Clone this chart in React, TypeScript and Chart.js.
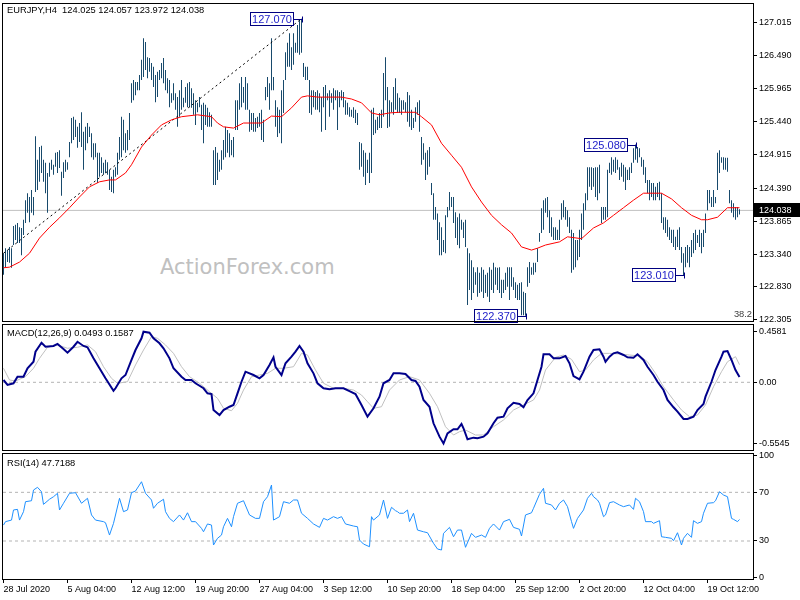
import React, { useEffect, useRef } from 'react';
import { Chart, registerables } from 'chart.js';

Chart.register(...registerables);

// ---------- DATA ----------
const symbolTitle = 'EURJPY,H4';
const lastBar = [124.025, 124.057, 123.972, 124.038]; // O H L C
const macdLabelVals = [0.0493, 0.1587];
const rsiLabelVal = 47.7188;
const fiboLabel = '38.2';
const watermark = 'ActionForex.com';

const barHigh = [
  123.36, 123.44, 123.41, 123.46, 123.44, 123.79, 123.81, 123.84, 123.77, 123.76,
  123.89, 124.20, 124.31, 124.25, 124.36, 124.25, 125.21, 124.84, 125.04, 125.06,
  124.84, 124.79, 124.63, 124.79, 124.84, 124.76, 124.95, 124.96, 124.99, 124.65,
  124.80, 124.84, 124.80, 125.12, 125.50, 125.52, 125.47, 125.36, 125.42, 125.59,
  125.28, 125.36, 125.42, 125.36, 125.26, 125.10, 125.10, 124.95, 124.95, 124.88,
  124.79, 124.84, 124.80, 124.68, 124.57, 124.68, 124.72, 124.95, 125.20, 125.52,
  125.47, 125.26, 125.31, 125.58, 126.05, 126.10, 126.07, 126.07, 126.18, 126.42,
  126.76, 126.70, 126.46, 126.45, 126.37, 126.31, 126.18, 126.23, 126.26, 126.37,
  126.45, 126.26, 126.13, 126.10, 125.89, 126.05, 125.89, 125.83, 125.94, 126.10,
  125.82, 125.99, 126.05, 126.07, 125.97, 125.89, 125.78, 125.74, 125.83, 125.71,
  125.74, 125.71, 125.66, 125.59, 125.55, 124.99, 125.04, 124.95, 124.84, 124.99,
  125.15, 125.36, 125.31, 125.26, 125.15, 125.20, 125.78, 125.78, 126.05, 126.15,
  125.99, 126.15, 126.05, 125.63, 125.58, 125.58, 125.50, 125.52, 125.58, 125.63,
  125.47, 125.99, 126.15, 126.05, 126.76, 126.15, 125.78, 125.67, 125.63, 125.94,
  126.10, 126.54, 126.69, 126.84, 126.62, 126.84, 126.69, 126.97, 127.05, 127.07,
  126.37, 126.31, 126.31, 126.10, 125.94, 125.94, 125.91, 125.94, 125.89, 125.83,
  125.99, 126.02, 125.89, 125.94, 125.89, 125.97, 125.94, 125.94, 125.91, 125.94,
  125.91, 125.78, 125.74, 125.67, 125.63, 125.67, 125.63, 125.58, 125.12, 125.10,
  124.99, 124.95, 124.84, 124.95, 125.63, 125.66, 125.47, 125.52, 125.58, 125.63,
  126.21, 126.46, 125.99, 125.78, 125.75, 125.99, 126.13, 125.89, 125.82, 125.78,
  125.78, 125.75, 125.91, 125.86, 125.63, 125.50, 125.67, 125.75, 125.78, 125.20,
  125.10, 124.95, 124.99, 125.04, 124.47, 124.31, 124.09, 123.99, 123.85, 123.77,
  123.57, 123.96, 124.09, 124.33, 124.25, 124.25, 124.01, 123.93, 123.99, 123.89,
  123.85, 123.89, 123.44, 123.36, 123.25, 123.14, 123.06, 123.14, 123.05, 123.14,
  123.10, 123.02, 123.05, 123.14, 123.10, 123.21, 123.14, 123.13, 123.14, 122.94,
  122.94, 123.05, 123.14, 123.14, 123.14, 122.98, 122.90, 122.86, 122.89, 122.90,
  122.75, 122.73, 123.14, 123.22, 123.14, 123.21, 123.21, 123.44, 123.68, 124.07,
  124.20, 124.23, 124.25, 124.04, 123.93, 123.77, 123.77, 123.73, 123.89, 124.15,
  124.20, 124.09, 124.04, 123.93, 123.73, 123.68, 123.57, 123.57, 123.73, 123.99,
  124.15, 124.31, 124.72, 124.72, 124.72, 124.71, 124.72, 124.72, 124.76, 124.09,
  124.09, 124.09, 124.68, 124.79, 124.88, 124.84, 124.88, 124.84, 124.72, 124.79,
  124.76, 124.72, 124.68, 124.72, 124.79, 125.02, 125.08, 125.04, 125.02, 124.88,
  124.84, 124.72, 124.52, 124.52, 124.47, 124.47, 124.41, 124.47, 124.49, 124.31,
  123.93, 123.93, 123.89, 123.77, 123.73, 123.73, 123.62, 123.73, 123.77, 123.46,
  123.36, 123.46, 123.49, 123.46, 123.57, 123.68, 123.73, 123.65, 123.73, 123.68,
  123.73, 123.99, 124.36, 124.36, 124.25, 124.36, 124.25, 124.95, 124.99, 124.88,
  124.88, 124.87, 124.87, 124.36, 124.20, 124.15, 124.09, 124.09, 124.057,
];

const barLow = [
  123.02, 123.14, 123.22, 123.21, 123.13, 123.49, 123.57, 123.52, 123.52, 123.33,
  123.65, 123.84, 124.00, 123.85, 124.00, 123.96, 124.33, 124.36, 124.49, 124.63,
  124.49, 124.31, 124.00, 124.57, 124.68, 124.60, 124.73, 124.63, 124.71, 124.27,
  124.55, 124.65, 124.68, 124.88, 125.10, 125.15, 125.20, 125.03, 125.12, 125.04,
  124.68, 124.99, 125.10, 125.20, 124.88, 124.84, 124.88, 124.47, 124.57, 124.63,
  124.60, 124.63, 124.60, 124.36, 124.33, 124.31, 124.57, 124.60, 124.84, 124.88,
  124.99, 124.95, 124.99, 125.15, 125.74, 125.78, 125.86, 125.94, 125.94, 126.10,
  126.15, 126.26, 126.13, 126.23, 126.10, 125.99, 125.75, 125.83, 126.10, 126.13,
  126.05, 125.94, 125.89, 125.67, 125.74, 125.78, 125.63, 125.36, 125.52, 125.63,
  125.67, 125.74, 125.67, 125.67, 125.66, 125.55, 125.39, 125.59, 125.67, 125.31,
  125.10, 125.39, 125.36, 125.36, 125.36, 124.44, 124.44, 124.52, 124.65, 124.68,
  124.84, 124.88, 124.95, 124.88, 124.91, 124.88, 125.31, 125.31, 125.63, 125.67,
  125.74, 125.63, 125.63, 125.28, 125.31, 125.28, 125.28, 125.34, 125.36, 125.15,
  125.12, 125.78, 125.83, 125.63, 125.94, 125.94, 125.36, 125.20, 125.26, 125.10,
  125.58, 126.10, 126.31, 126.31, 126.26, 126.34, 126.53, 126.53, 126.50, 126.53,
  126.15, 126.10, 126.10, 125.58, 125.55, 125.67, 125.63, 125.63, 125.59, 125.28,
  125.67, 125.31, 125.78, 125.52, 125.74, 125.63, 125.78, 125.31, 125.67, 125.78,
  125.67, 125.55, 125.55, 125.52, 125.52, 125.50, 125.42, 125.39, 124.68, 124.73,
  124.57, 124.44, 124.63, 124.47, 124.63, 125.23, 125.26, 125.31, 125.34, 125.34,
  125.52, 125.78, 125.34, 125.36, 125.59, 125.55, 125.63, 125.58, 125.58, 125.55,
  125.63, 125.59, 125.44, 125.36, 125.31, 125.34, 125.44, 125.55, 125.28, 124.76,
  124.84, 124.52, 124.60, 124.73, 124.28, 123.89, 123.89, 123.57, 123.33, 123.33,
  123.38, 123.36, 123.93, 124.04, 124.09, 123.84, 123.60, 123.49, 123.44, 123.73,
  123.60, 123.46, 122.54, 122.78, 122.62, 122.73, 122.86, 122.67, 122.73, 122.75,
  122.65, 122.73, 122.67, 122.59, 122.78, 122.73, 122.86, 122.78, 122.73, 122.65,
  122.73, 122.78, 122.83, 122.62, 122.83, 122.78, 122.65, 122.62, 122.62, 122.38,
  122.38, 122.37, 122.83, 122.89, 123.02, 123.02, 123.06, 123.22, 123.54, 123.68,
  123.73, 124.00, 123.93, 123.68, 123.62, 123.57, 123.57, 123.57, 123.57, 123.89,
  123.93, 123.89, 123.78, 123.68, 123.05, 123.10, 123.14, 123.25, 123.30, 123.57,
  123.73, 124.04, 124.20, 124.41, 124.36, 124.41, 124.25, 124.20, 124.31, 123.84,
  123.89, 123.89, 123.93, 124.63, 124.60, 124.65, 124.63, 124.68, 124.52, 124.57,
  124.49, 124.36, 124.52, 124.52, 124.63, 124.79, 124.84, 124.79, 124.88, 124.73,
  124.60, 124.47, 124.31, 124.20, 124.25, 124.20, 124.20, 124.25, 124.20, 123.84,
  123.73, 123.68, 123.62, 123.57, 123.52, 123.46, 123.41, 123.46, 123.41, 123.21,
  123.01, 123.14, 123.21, 123.14, 123.30, 123.36, 123.41, 123.52, 123.46, 123.36,
  123.46, 123.68, 124.04, 124.15, 124.09, 124.09, 124.15, 124.36, 124.63, 124.79,
  124.68, 124.68, 124.65, 124.15, 124.00, 123.93, 123.89, 123.93, 123.972,
];

const maIdx = [0, 3, 8, 13, 18, 23, 28, 33, 38, 43, 48, 53, 56, 61, 64, 69, 74, 79, 84, 89,
  97, 104, 107, 110, 115, 120, 129, 134, 139, 144, 149, 152, 157, 169, 174, 179, 184, 188, 193, 198,
  206, 209, 214, 219, 224, 229, 234, 239, 244, 249, 254, 259, 264, 267, 271, 278, 282, 289, 295, 300,
  305, 310, 315, 320, 329, 334, 339, 344, 349, 352, 357, 362, 368];
const maVal = [123.13, 123.14, 123.22, 123.36, 123.60, 123.77, 123.92, 124.08, 124.25, 124.41,
  124.49, 124.52, 124.52, 124.63, 124.76, 125.04, 125.23, 125.39, 125.47, 125.52,
  125.55, 125.52, 125.42, 125.36, 125.34, 125.42, 125.42, 125.53, 125.52, 125.66,
  125.83, 125.85, 125.83, 125.83, 125.80, 125.74, 125.58, 125.55, 125.58, 125.59,
  125.59, 125.52, 125.39, 125.10, 124.91, 124.72, 124.41, 124.17, 123.96, 123.81,
  123.68, 123.46, 123.41, 123.44, 123.49, 123.54, 123.62, 123.59, 123.76, 123.84,
  123.96, 124.08, 124.20, 124.31, 124.31, 124.22, 124.08, 123.96, 123.89, 123.89,
  123.93, 124.08, 124.08];

const trendIdx = [0, 149];
const trendVal = [123.36, 127.07];

const pivotIdx = [149, 316, 261, 340];
const pivotVal = [127.07, 125.08, 122.37, 123.01];

const macdIdx = [0, 2, 5, 7, 10, 12, 15, 16, 19, 21, 25, 27, 30, 32, 35, 37, 40, 42, 45, 48,
  51, 55, 56, 59, 61, 64, 66, 69, 70, 73, 75, 78, 80, 83, 85, 89, 91, 94, 96, 100,
  102, 104, 105, 108, 110, 113, 115, 117, 119, 121, 125, 128, 130, 133, 135, 136, 139, 141, 144, 146,
  148, 150, 152, 155, 157, 160, 163, 166, 170, 173, 176, 179, 182, 185, 188, 190, 193, 195, 198, 201,
  204, 206, 208, 210, 213, 215, 218, 220, 222, 225, 227, 229, 230, 232, 235, 237, 240, 242, 245, 247,
  250, 252, 255, 258, 260, 262, 265, 267, 269, 270, 273, 275, 278, 281, 283, 285, 288, 290, 293, 295,
  298, 300, 301, 303, 305, 307, 310, 312, 315, 317, 320, 322, 325, 327, 330, 332, 335, 337, 340, 342,
  345, 347, 350, 351, 354, 356, 359, 360, 362, 364, 366, 368];
const macdVal = [0.021, -0.024, -0.009, 0.051, 0.051, 0.127, 0.186, 0.277, 0.358, 0.322,
  0.329, 0.347, 0.301, 0.268, 0.322, 0.367, 0.329, 0.317, 0.217, 0.127,
  0.036, -0.076, -0.054, 0.036, 0.066, 0.202, 0.292, 0.398, 0.458, 0.449,
  0.398, 0.353, 0.308, 0.217, 0.127, 0.051, 0.021, 0.021, -0.009, -0.054,
  -0.100, -0.106, -0.251, -0.296, -0.251, -0.221, -0.205, -0.100, 0.005, 0.096,
  0.066, 0.036, 0.066, 0.157, 0.226, 0.141, 0.066, 0.172, 0.232, 0.277,
  0.329, 0.277, 0.172, 0.081, -0.009, -0.054, -0.063, -0.054, -0.054, -0.079,
  -0.106, -0.205, -0.311, -0.235, -0.130, -0.009, 0.021, 0.081, 0.081, 0.075,
  0.021, 0.012, -0.040, -0.160, -0.221, -0.371, -0.492, -0.554, -0.462, -0.425,
  -0.425, -0.377, -0.416, -0.516, -0.501, -0.507, -0.492, -0.462, -0.371, -0.320,
  -0.311, -0.235, -0.185, -0.196, -0.226, -0.160, -0.100, 0.021, 0.141, 0.253,
  0.253, 0.217, 0.217, 0.238, 0.172, 0.057, 0.027, 0.096, 0.232, 0.292,
  0.299, 0.232, 0.186, 0.232, 0.262, 0.271, 0.247, 0.226, 0.223, 0.253,
  0.202, 0.141, 0.066, 0.005, -0.070, -0.160, -0.226, -0.266, -0.332, -0.332,
  -0.311, -0.251, -0.196, -0.130, 0.005, 0.111, 0.232, 0.277, 0.283, 0.202,
  0.111, 0.049];

const signalIdx = [0, 3, 6, 11, 15, 18, 22, 27, 32, 37, 42, 46, 50, 54, 57, 62, 66, 70, 74, 77,
  81, 85, 89, 93, 98, 103, 107, 110, 114, 117, 120, 124, 128, 132, 136, 140, 145, 149, 152, 156,
  160, 165, 170, 175, 179, 182, 185, 189, 193, 198, 203, 208, 213, 217, 221, 225, 228, 231, 236, 240,
  245, 250, 255, 260, 265, 268, 271, 276, 280, 284, 288, 291, 295, 299, 303, 308, 313, 318, 322, 326,
  330, 335, 339, 343, 347, 351, 355, 359, 362, 366, 368];
const signalVal = [0.127, 0.021, 0.012, 0.051, 0.127, 0.217, 0.317, 0.338, 0.308, 0.317,
  0.338, 0.277, 0.141, 0.036, -0.009, 0.005, 0.157, 0.292, 0.413, 0.398,
  0.338, 0.262, 0.141, 0.051, -0.009, -0.085, -0.145, -0.235, -0.257, -0.190,
  -0.070, 0.051, 0.066, 0.081, 0.127, 0.127, 0.141, 0.262, 0.247, 0.111,
  -0.009, -0.054, -0.054, -0.070, -0.115, -0.176, -0.235, -0.221, -0.070, 0.021,
  0.051, 0.021, -0.100, -0.221, -0.402, -0.477, -0.447, -0.432, -0.477, -0.477,
  -0.402, -0.341, -0.251, -0.205, -0.160, -0.070, 0.111, 0.226, 0.247, 0.208,
  0.096, 0.111, 0.202, 0.262, 0.262, 0.256, 0.247, 0.238, 0.186, 0.081,
  -0.040, -0.160, -0.251, -0.311, -0.296, -0.205, -0.040, 0.096, 0.186, 0.232,
  0.159];

const rsiIdx = [0, 1, 4, 5, 7, 8, 10, 11, 14, 15, 17, 19, 20, 23, 25, 27, 28, 30, 33, 36,
  39, 42, 44, 46, 50, 51, 53, 55, 58, 60, 62, 64, 66, 69, 71, 74, 75, 77, 80, 81,
  83, 85, 88, 90, 92, 94, 96, 99, 100, 102, 104, 105, 107, 109, 110, 112, 114, 115, 117, 120,
  123, 126, 128, 130, 132, 134, 135, 138, 140, 143, 145, 147, 149, 152, 155, 158, 160, 162, 165, 167,
  169, 171, 175, 177, 178, 180, 183, 184, 185, 188, 190, 192, 194, 196, 197, 198, 200, 202, 203, 205,
  207, 210, 212, 215, 217, 219, 220, 223, 225, 227, 229, 231, 234, 236, 239, 241, 243, 245, 248, 250,
  253, 255, 258, 259, 261, 264, 265, 268, 270, 271, 274, 276, 278, 280, 282, 284, 285, 287, 290, 292,
  294, 295, 297, 298, 300, 301, 303, 305, 308, 310, 313, 315, 316, 318, 320, 321, 324, 325, 328, 329,
  331, 334, 335, 337, 339, 340, 342, 344, 345, 347, 349, 350, 352, 355, 356, 358, 360, 362, 364, 365,
  367, 368];
const rsiVal = [43.1, 45.9, 47.2, 55.5, 56.0, 47.2, 54.1, 62.3, 63.1, 71.9,
  74.1, 70.5, 60.1, 64.3, 66.4, 69.2, 55.5, 61.0, 69.2, 69.7,
  61.0, 65.1, 51.4, 47.2, 45.9, 45.0, 34.9, 44.5, 65.1, 54.1,
  55.5, 69.7, 71.1, 78.7, 69.2, 63.7, 56.9, 61.0, 64.3, 54.1,
  48.6, 45.9, 51.4, 47.2, 53.2, 45.9, 45.9, 40.4, 37.6, 44.0,
  43.1, 26.7, 32.2, 34.9, 41.7, 48.6, 41.7, 50.0, 61.0, 63.1,
  51.4, 48.6, 48.6, 62.3, 66.4, 76.0, 47.2, 50.0, 62.3, 61.0,
  63.7, 63.7, 52.8, 48.6, 44.0, 41.2, 48.6, 47.2, 50.0, 48.6,
  50.0, 44.0, 42.3, 41.7, 30.8, 27.5, 25.3, 50.0, 47.2, 51.4,
  63.7, 48.6, 57.7, 54.9, 54.1, 52.8, 52.8, 55.5, 45.9, 52.8,
  39.0, 37.6, 36.8, 28.1, 23.4, 22.6, 36.3, 41.2, 33.5, 39.0,
  39.0, 24.8, 36.3, 33.0, 34.9, 33.0, 40.4, 44.0, 39.0, 45.9,
  47.8, 41.2, 39.6, 34.1, 51.4, 53.2, 56.9, 68.4, 73.3, 61.0,
  59.6, 55.5, 61.0, 63.7, 58.2, 45.9, 40.4, 48.6, 55.5, 65.1,
  69.2, 66.4, 63.7, 61.0, 50.0, 51.4, 61.5, 62.3, 59.6, 58.2,
  59.6, 56.0, 65.1, 62.3, 54.1, 45.9, 45.9, 44.5, 46.7, 33.5,
  33.0, 32.2, 30.2, 36.8, 26.7, 32.2, 36.3, 33.0, 46.7, 44.5,
  45.9, 52.8, 61.0, 61.5, 63.1, 70.5, 67.8, 66.4, 48.6, 47.8,
  45.9, 47.7];

const priceTicks = [127.015, 126.49, 125.965, 125.44, 124.915, 124.39, 123.865, 123.34, 122.83, 122.305];
const macdTicks = [0.4581, 0, -0.5545];
const rsiTicks = [100, 70, 30, 0];
const rsiLevels = [70, 30];
const macdLevels = [0];
const dateTickIdx = [0, 32, 64, 96, 128, 160, 192, 224, 256, 288, 320, 352];
const dateLabels = ['28 Jul 2020', '5 Aug 04:00', '12 Aug 12:00', '19 Aug 20:00', '27 Aug 04:00',
  '3 Sep 12:00', '10 Sep 20:00', '18 Sep 04:00', '25 Sep 12:00', '2 Oct 20:00', '12 Oct 04:00', '19 Oct 12:00'];

// ---------- STYLE ----------
const FONT = "'Liberation Sans', Arial, sans-serif";
const X_MIN = -0.25;
const X_MAX = 374.75;
const AXIS_W = 47;

const pts = (idx: number[], val: number[]) => idx.map((x, k) => ({ x, y: val[k] }));
const hLine = (v: number) => [{ x: X_MIN, y: v }, { x: X_MAX, y: v }];

const framePlugin = {
  id: 'frame',
  afterDraw(chart: any) {
    const { ctx, chartArea: a } = chart;
    ctx.save();
    ctx.strokeStyle = '#000';
    ctx.lineWidth = 1;
    ctx.strokeRect(a.left - 0.5, a.top - 0.5, a.right - a.left + 1, a.bottom - a.top + 1);
    ctx.restore();
  },
};

const pricePlugin = {
  id: 'priceMarks',
  afterDatasetsDraw(chart: any) {
    const { ctx, chartArea } = chart;
    const xs = chart.scales.x;
    const ys = chart.scales.y;
    ctx.save();
    ctx.font = `11px ${FONT}`;
    ctx.textAlign = 'center';
    ctx.textBaseline = 'middle';
    ctx.lineWidth = 1;
    pivotIdx.forEach((idx, k) => {
      const px = Math.round(xs.getPixelForValue(idx)) + 0.5;
      const py = Math.round(ys.getPixelForValue(pivotVal[k])) + 0.5;
      const right = px - 9;
      const left = right - 43;
      const top = py - 7;
      ctx.fillStyle = '#fff';
      ctx.fillRect(left, top, 43, 13);
      ctx.strokeStyle = '#000080';
      ctx.strokeRect(left, top, 43, 13);
      ctx.beginPath();
      ctx.moveTo(right, py);
      ctx.lineTo(px, py);
      ctx.moveTo(px, py - 3);
      ctx.lineTo(px, py + 3);
      ctx.stroke();
      ctx.fillStyle = '#1c1cc8';
      ctx.fillText(pivotVal[k].toFixed(3), (left + right) / 2, py + 0.5);
    });
    const close = lastBar[3];
    const cy = Math.round(ys.getPixelForValue(close));
    const r = chartArea.right;
    ctx.fillStyle = '#000';
    ctx.fillRect(r + 1, cy - 7, 800 - r - 1, 14);
    ctx.fillStyle = '#fff';
    ctx.font = `9px ${FONT}`;
    ctx.textAlign = 'left';
    ctx.fillText(close.toFixed(3), r + 6, cy + 0.5);
    ctx.restore();
  },
};

const yAxis = (min: number, max: number, ticks: number[], fmt: (v: number) => string) => ({
  type: 'linear',
  position: 'right',
  min,
  max,
  afterBuildTicks: (s: any) => { s.ticks = ticks.map((v) => ({ value: v })); },
  afterFit: (s: any) => { s.width = AXIS_W; s.paddingTop = 0; s.paddingBottom = 0; },
  ticks: { callback: (v: number) => fmt(v), font: { family: FONT, size: 9 }, color: '#000', padding: 2, autoSkip: false },
  grid: { display: true, drawOnChartArea: false, drawTicks: true, tickLength: 4, color: '#000' },
  border: { display: true, color: '#000' },
});

const hiddenX = { type: 'linear', min: X_MIN, max: X_MAX, offset: false, display: false };

const baseOpts = (padding: any) => ({
  responsive: false,
  animation: false,
  devicePixelRatio: 1,
  events: [],
  layout: { padding },
  plugins: { legend: { display: false }, tooltip: { enabled: false } },
  elements: { point: { radius: 0, hoverRadius: 0 }, line: { tension: 0 } },
});

export default function App() {
  const priceRef = useRef<HTMLCanvasElement>(null);
  const macdRef = useRef<HTMLCanvasElement>(null);
  const rsiRef = useRef<HTMLCanvasElement>(null);

  useEffect(() => {
    const close = lastBar[3];
    const price = new Chart(priceRef.current as any, {
      type: 'line',
      data: {
        datasets: [
          { type: 'line', data: pts(maIdx, maVal), borderColor: '#ff0000', borderWidth: 1, order: 0 },
          { type: 'line', data: pts(trendIdx, trendVal), borderColor: '#000', borderWidth: 1, borderDash: [2, 3], order: 1 },
          {
            type: 'bar',
            data: barHigh.map((h, i) => ({ x: i, y: [barLow[i], h] })) as any,
            backgroundColor: '#184a6c',
            borderWidth: 0,
            barThickness: 1,
            inflateAmount: 0,
            order: 2,
          },
          { type: 'line', data: hLine(close), borderColor: '#c0c0c0', borderWidth: 1, order: 3 },
        ],
      },
      options: {
        ...baseOpts({ left: 3, top: 4, right: 0, bottom: 2 }),
        scales: {
          x: hiddenX,
          y: yAxis(122.288, 127.303, priceTicks, (v) => v.toFixed(3)),
        },
      } as any,
      plugins: [pricePlugin, framePlugin],
    });

    const macd = new Chart(macdRef.current as any, {
      type: 'line',
      data: {
        datasets: [
          { data: pts(macdIdx, macdVal), borderColor: '#00008b', borderWidth: 2, order: 0 },
          { data: pts(signalIdx, signalVal), borderColor: '#c0c0c0', borderWidth: 1, order: 1 },
          ...macdLevels.map((lv) => ({ data: hLine(lv), borderColor: '#b4b4b4', borderWidth: 1, borderDash: [3, 3], order: 2 })),
        ],
      },
      options: {
        ...baseOpts({ left: 3, top: 2, right: 0, bottom: 2 }),
        scales: {
          x: hiddenX,
          y: yAxis(-0.6127, 0.5186, macdTicks, (v) => (v === 0 ? '0.00' : v.toFixed(4))),
        },
      } as any,
      plugins: [framePlugin],
    });

    const rsi = new Chart(rsiRef.current as any, {
      type: 'line',
      data: {
        datasets: [
          { data: pts(rsiIdx, rsiVal), borderColor: '#1e90ff', borderWidth: 1, order: 0 },
          ...rsiLevels.map((lv) => ({ data: hLine(lv), borderColor: '#b4b4b4', borderWidth: 1, borderDash: [3, 3], order: 1 })),
        ],
      },
      options: {
        ...baseOpts({ left: 3, top: 2, right: 0, bottom: 0 }),
        scales: {
          x: {
            type: 'linear',
            min: X_MIN,
            max: X_MAX,
            offset: false,
            position: 'bottom',
            afterBuildTicks: (s: any) => { s.ticks = dateTickIdx.map((v) => ({ value: v })); },
            afterFit: (s: any) => { s.height = 21; s.paddingLeft = 0; s.paddingRight = 0; },
            ticks: {
              callback: (_v: number, i: number) => dateLabels[i],
              align: 'start',
              maxRotation: 0,
              minRotation: 0,
              autoSkip: false,
              padding: 1,
              font: { family: FONT, size: 9 },
              color: '#000',
            },
            grid: { display: true, drawOnChartArea: false, drawTicks: true, tickLength: 4, color: '#000' },
            border: { display: true, color: '#000' },
          },
          y: yAxis(-1.23, 101.5, rsiTicks, (v) => String(v)),
        },
      } as any,
      plugins: [framePlugin],
    });

    return () => {
      price.destroy();
      macd.destroy();
      rsi.destroy();
    };
  }, []);

  const label: React.CSSProperties = {
    position: 'absolute',
    fontFamily: FONT,
    fontSize: '9.3px',
    lineHeight: '11px',
    color: '#000',
    whiteSpace: 'pre',
    pointerEvents: 'none',
  };

  return (
    <div style={{ position: 'absolute', left: 0, top: 0, width: 800, height: 600, background: '#fff', overflow: 'hidden' }}>
      <div style={{ position: 'absolute', left: 160, top: 257, fontFamily: "'DejaVu Sans', sans-serif", fontSize: '21px', lineHeight: '21px', color: '#c0c0c0', whiteSpace: 'pre' }}>
        {watermark}
      </div>
      <canvas ref={priceRef} width={800} height={323} style={{ position: 'absolute', left: 0, top: 0 }} />
      <canvas ref={macdRef} width={800} height={129} style={{ position: 'absolute', left: 0, top: 323 }} />
      <canvas ref={rsiRef} width={800} height={148} style={{ position: 'absolute', left: 0, top: 452 }} />
      <div style={{ ...label, left: 7, top: 5 }}>{`${symbolTitle}  ${lastBar.map((v) => v.toFixed(3)).join(' ')}`}</div>
      <div style={{ ...label, left: 7, top: 328 }}>{`MACD(12,26,9) ${macdLabelVals[0].toFixed(4)} ${macdLabelVals[1].toFixed(4)}`}</div>
      <div style={{ ...label, left: 7, top: 458 }}>{`RSI(14) ${rsiLabelVal.toFixed(4)}`}</div>
      <div style={{ ...label, right: 48, top: 309, color: '#404040' }}>{fiboLabel}</div>
    </div>
  );
}
